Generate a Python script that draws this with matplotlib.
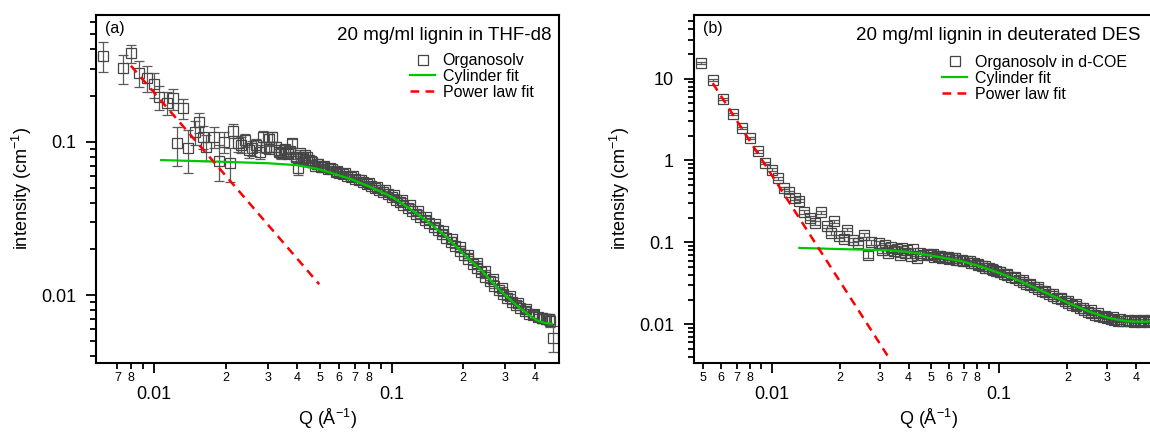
import numpy as np
import matplotlib
matplotlib.use('Agg')
import matplotlib.pyplot as plt
from matplotlib.ticker import FixedLocator, FixedFormatter, NullFormatter, LogLocator

plt.rcParams['font.family'] = ['Liberation Sans', 'DejaVu Sans']
plt.rcParams['mathtext.fontset'] = 'custom'
plt.rcParams['mathtext.rm'] = 'Liberation Sans'
plt.rcParams['mathtext.it'] = 'Liberation Sans:italic'

# ---- panel (a): 20 mg/ml lignin in THF-d8 ----
q_a = [0.00609, 0.00736, 0.00798, 0.00865, 0.00937, 0.0100, 0.0105, 0.0113, 0.0120, 0.0125,
       0.0132, 0.0139, 0.0149, 0.0154, 0.0161, 0.0166, 0.0179, 0.0188, 0.0196, 0.0209,
       0.0215, 0.0226, 0.0231, 0.0240, 0.0250, 0.0258, 0.0268, 0.0278, 0.0287, 0.0296,
       0.0305, 0.0314, 0.0326, 0.0335, 0.0343, 0.0355, 0.0365, 0.0374, 0.0382, 0.0396,
       0.0403, 0.0412, 0.0422, 0.0433, 0.0441, 0.0450,
       0.0460, 0.0475, 0.0490, 0.0505, 0.0520, 0.0540, 0.0560, 0.0580, 0.0600, 0.0625,
       0.0650, 0.0675, 0.0700, 0.0730, 0.0760, 0.0790, 0.0820, 0.0850, 0.0885, 0.0920,
       0.0960, 0.1000, 0.1040, 0.1080, 0.1120, 0.1170, 0.1220, 0.1270, 0.1320, 0.1380,
       0.1440, 0.1500, 0.1560, 0.1630, 0.1700, 0.1770, 0.1850, 0.1930, 0.2010, 0.2100,
       0.2190, 0.2280, 0.2380, 0.2480, 0.2590, 0.2700, 0.2820, 0.2940, 0.3070, 0.3200,
       0.3340, 0.3480, 0.3630, 0.3790, 0.3950, 0.4120, 0.4300, 0.4480, 0.4650, 0.4780]
i_a = [0.364, 0.304, 0.377, 0.282, 0.262, 0.237, 0.197, 0.180, 0.192, 0.0976,
       0.165, 0.0906, 0.116, 0.134, 0.108, 0.0928, 0.108, 0.0752, 0.100, 0.0730,
       0.118, 0.0976, 0.0960, 0.102, 0.0880, 0.0906, 0.0950, 0.0860, 0.108, 0.0920,
       0.104, 0.108, 0.0928, 0.0880, 0.0840, 0.0900, 0.0850, 0.0870, 0.0976, 0.0798,
       0.0671, 0.0850, 0.0800, 0.0820, 0.0790, 0.0760,
       0.0735, 0.0700, 0.0720, 0.0690, 0.0700, 0.0665, 0.0660, 0.0640, 0.0630, 0.0615,
       0.0600, 0.0590, 0.0575, 0.0560, 0.0545, 0.0530, 0.0515, 0.0500, 0.0485, 0.0470,
       0.0455, 0.0440, 0.0420, 0.0405, 0.0390, 0.0372, 0.0355, 0.0340, 0.0325, 0.0310,
       0.0295, 0.0280, 0.0265, 0.0250, 0.0236, 0.0222, 0.0208, 0.0195, 0.0184, 0.0172,
       0.0161, 0.0151, 0.0141, 0.0132, 0.0123, 0.0115, 0.0108, 0.0102, 0.0096, 0.0091,
       0.0087, 0.0083, 0.0079, 0.0076, 0.0074, 0.0072, 0.0071, 0.0070, 0.0068, 0.0053]
e_a = [0.080, 0.065, 0.050, 0.055, 0.050, 0.045, 0.035, 0.030, 0.030, 0.028,
       0.025, 0.028, 0.020, 0.020, 0.018, 0.018, 0.017, 0.020, 0.015, 0.018,
       0.012, 0.012, 0.012, 0.010, 0.010, 0.010, 0.009, 0.009, 0.009, 0.008,
       0.008, 0.008, 0.007, 0.007, 0.007, 0.006, 0.006, 0.006, 0.006, 0.005,
       0.006, 0.004, 0.004, 0.004, 0.003, 0.003,
       0.003, 0.003, 0.002, 0.002, 0.002, 0.002, 0.002, 0.002, 0.0015, 0.0015,
       0.0015, 0.0015, 0.0012, 0.0012, 0.0012, 0.0012, 0.001, 0.001, 0.001, 0.001,
       0.0009, 0.0009, 0.0008, 0.0008, 0.0008, 0.0007, 0.0007, 0.0006, 0.0006, 0.0006,
       0.0005, 0.0005, 0.0005, 0.0005, 0.0004, 0.0004, 0.0004, 0.0004, 0.0004, 0.0003,
       0.0003, 0.0003, 0.0003, 0.0003, 0.0003, 0.0003, 0.0003, 0.0003, 0.0003, 0.0003,
       0.0003, 0.0003, 0.0003, 0.0003, 0.0004, 0.0004, 0.0004, 0.0005, 0.0006, 0.0010]
# overlapping second detector set, panel (a)
q_a2 = [0.0305, 0.0335, 0.0365, 0.0395, 0.0425, 0.0455, 0.0485, 0.0515, 0.0550, 0.0590,
        0.0635, 0.0685, 0.0740, 0.0800, 0.0865, 0.0940, 0.1020, 0.1100, 0.1190, 0.1290,
        0.1400, 0.1520, 0.1650, 0.1790, 0.1940, 0.2100, 0.2280, 0.2470, 0.2680, 0.2900,
        0.3140, 0.3400, 0.3680, 0.3980, 0.4300, 0.4600]
i_a2 = [0.0900, 0.0860, 0.0830, 0.0800, 0.0770, 0.0745, 0.0715, 0.0690, 0.0672, 0.0648,
        0.0622, 0.0595, 0.0565, 0.0540, 0.0510, 0.0483, 0.0452, 0.0420, 0.0386, 0.0354,
        0.0322, 0.0292, 0.0263, 0.0234, 0.0206, 0.0184, 0.0163, 0.0144, 0.0128, 0.0111,
        0.0099, 0.0089, 0.0081, 0.0075, 0.0071, 0.0070]
e_a2 = [0.004, 0.004, 0.003, 0.003, 0.003, 0.002, 0.002, 0.002, 0.002, 0.0015,
        0.0015, 0.0012, 0.0012, 0.001, 0.001, 0.0009, 0.0008, 0.0008, 0.0007, 0.0006,
        0.0006, 0.0005, 0.0005, 0.0004, 0.0004, 0.0004, 0.0003, 0.0003, 0.0003, 0.0003,
        0.0003, 0.0003, 0.0003, 0.0004, 0.0005, 0.0006]
cyl_q_a = [0.0107, 0.0193, 0.0300, 0.0395, 0.0480, 0.0566, 0.0680, 0.0811, 0.1000, 0.1180,
           0.1394, 0.1700, 0.1995, 0.2380, 0.2850, 0.3410, 0.3800, 0.4080, 0.4400, 0.4710]
cyl_i_a = [0.0760, 0.0741, 0.0725, 0.0705, 0.0670, 0.0622, 0.0568, 0.0508, 0.0438, 0.0370,
           0.0308, 0.0240, 0.0187, 0.01456, 0.0108, 0.0084, 0.0074, 0.00687, 0.0066, 0.00653]
pow_q_a = [0.00798, 0.0495]
pow_i_a = [0.313, 0.0118]

# ---- panel (b): 20 mg/ml lignin in deuterated DES ----
q_b = [0.00489, 0.0055, 0.0061, 0.00676, 0.00738, 0.0080, 0.00866, 0.00931, 0.0100, 0.01068,
       0.01137, 0.01193, 0.0126, 0.01323, 0.01393, 0.0147, 0.01544, 0.0165, 0.01743, 0.0182,
       0.01873, 0.0198, 0.0207, 0.02153, 0.0227, 0.0240, 0.0254, 0.0264, 0.0273, 0.0295,
       0.0305, 0.0315, 0.0325, 0.0335, 0.0345, 0.0355, 0.0365, 0.0375, 0.0385, 0.0395,
       0.0410, 0.0420, 0.0435, 0.0450, 0.0465, 0.0480,
       0.0500, 0.0520, 0.0540, 0.0560, 0.0580, 0.0600, 0.0620, 0.0645, 0.0670, 0.0695,
       0.0720, 0.0750, 0.0780, 0.0810, 0.0840, 0.0870, 0.0905, 0.0940, 0.0975, 0.1010,
       0.1050, 0.1090, 0.1130, 0.1175, 0.1220, 0.1270, 0.1320, 0.1370, 0.1425, 0.1480,
       0.1540, 0.1600, 0.1665, 0.1730, 0.1800, 0.1870, 0.1945, 0.2020, 0.2100, 0.2185,
       0.2270, 0.2360, 0.2455, 0.2550, 0.2650, 0.2760, 0.2870, 0.2980, 0.3100, 0.3220,
       0.3350, 0.3480, 0.3620, 0.3760, 0.3910, 0.4070, 0.4230, 0.4400, 0.4570, 0.4750, 0.4940]
i_b = [15.4, 9.64, 5.61, 3.68, 2.48, 1.88, 1.29, 0.929, 0.771, 0.609,
       0.461, 0.407, 0.347, 0.323, 0.235, 0.199, 0.172, 0.232, 0.157, 0.130,
       0.180, 0.118, 0.110, 0.143, 0.108, 0.0983, 0.124, 0.0708, 0.100, 0.0983,
       0.080, 0.092, 0.075, 0.088, 0.078, 0.083, 0.070, 0.085, 0.074, 0.080,
       0.068, 0.082, 0.065, 0.075, 0.071, 0.073,
       0.0700, 0.0670, 0.0685, 0.0650, 0.0660, 0.0630, 0.0640, 0.0610, 0.0615, 0.0585,
       0.0590, 0.0560, 0.0555, 0.0525, 0.0520, 0.0490, 0.0485, 0.0460, 0.0450, 0.0430,
       0.0415, 0.0395, 0.0380, 0.0362, 0.0345, 0.0330, 0.0312, 0.0298, 0.0282, 0.0270,
       0.0255, 0.0245, 0.0232, 0.0222, 0.0210, 0.0202, 0.0190, 0.0183, 0.0173, 0.0166,
       0.0157, 0.0151, 0.0143, 0.0138, 0.0131, 0.0127, 0.0122, 0.0119, 0.0115, 0.0113,
       0.0111, 0.0110, 0.0108, 0.0109, 0.0107, 0.0108, 0.0106, 0.0108, 0.0107, 0.0108, 0.0107]
e_b = [0.5, 0.35, 0.2, 0.13, 0.09, 0.07, 0.05, 0.035, 0.03, 0.024,
       0.018, 0.016, 0.014, 0.013, 0.01, 0.009, 0.008, 0.01, 0.008, 0.007,
       0.009, 0.006, 0.006, 0.007, 0.006, 0.006, 0.007, 0.007, 0.006, 0.005,
       0.005, 0.005, 0.005, 0.005, 0.004, 0.004, 0.004, 0.004, 0.004, 0.004,
       0.004, 0.004, 0.004, 0.003, 0.003, 0.003,
       0.002, 0.002, 0.002, 0.002, 0.002, 0.002, 0.002, 0.0015, 0.0015, 0.0015,
       0.0015, 0.0015, 0.0012, 0.0012, 0.0012, 0.0012, 0.001, 0.001, 0.001, 0.001,
       0.0009, 0.0009, 0.0008, 0.0008, 0.0008, 0.0007, 0.0007, 0.0006, 0.0006, 0.0006,
       0.0005, 0.0005, 0.0005, 0.0005, 0.0004, 0.0004, 0.0004, 0.0004, 0.0004, 0.0003,
       0.0003, 0.0003, 0.0003, 0.0003, 0.0003, 0.0003, 0.0003, 0.0003, 0.0003, 0.0003,
       0.0003, 0.0003, 0.0003, 0.0003, 0.0003, 0.0003, 0.0003, 0.0003, 0.0003, 0.0003, 0.0003]
# overlapping second detector set, panel (b)
q_b2 = [0.0510, 0.0550, 0.0595, 0.0640, 0.0690, 0.0745, 0.0805, 0.0865, 0.0935, 0.1010,
        0.1090, 0.1175, 0.1270, 0.1370, 0.1480, 0.1600, 0.1730, 0.1870, 0.2020, 0.2180,
        0.2350, 0.2530, 0.2730, 0.2940, 0.3170, 0.3420, 0.3690, 0.3980, 0.4290, 0.4620, 0.4980]
i_b2 = [0.0715, 0.0690, 0.0665, 0.0640, 0.0612, 0.0585, 0.0545, 0.0510, 0.0478, 0.0440,
        0.0408, 0.0376, 0.0345, 0.0313, 0.0285, 0.0258, 0.0232, 0.0210, 0.0192, 0.0175,
        0.0160, 0.0148, 0.0136, 0.0127, 0.0121, 0.0117, 0.0114, 0.0113, 0.0112, 0.0112, 0.0112]
e_b2 = [0.002, 0.002, 0.002, 0.0015, 0.0015, 0.0015, 0.0012, 0.0012, 0.001, 0.001,
        0.0009, 0.0008, 0.0008, 0.0007, 0.0006, 0.0006, 0.0005, 0.0005, 0.0004, 0.0004,
        0.0003, 0.0003, 0.0003, 0.0003, 0.0003, 0.0003, 0.0003, 0.0003, 0.0003, 0.0003, 0.0003]
cyl_q_b = [0.01323, 0.0189, 0.0250, 0.0329, 0.0400, 0.0476, 0.0571, 0.0688, 0.0827, 0.1000,
           0.1193, 0.1440, 0.1730, 0.2010, 0.2506, 0.3010, 0.3620, 0.4200, 0.4650, 0.5200]
cyl_i_b = [0.0855, 0.0831, 0.0815, 0.0799, 0.0760, 0.0708, 0.0646, 0.0586, 0.0509, 0.0423,
           0.0351, 0.0278, 0.0220, 0.0182, 0.0142, 0.0120, 0.0109, 0.0107, 0.0108, 0.0109]
pow_q_b = [0.0055, 0.0323]
pow_i_b = [8.79, 0.00415]

# tick labels
minor_a = [0.007, 0.008, 0.009, 0.02, 0.03, 0.04, 0.05, 0.06, 0.07, 0.08, 0.09, 0.2, 0.3, 0.4]
lab_a = ['7', '8', '', '2', '3', '4', '5', '6', '7', '8', '', '2', '3', '4']
minor_b = [0.005, 0.006, 0.007, 0.008, 0.009, 0.02, 0.03, 0.04, 0.05, 0.06, 0.07, 0.08, 0.09,
           0.2, 0.3, 0.4]
lab_b = ['5', '6', '7', '8', '', '2', '3', '4', '5', '6', '7', '8', '', '2', '3', '4']
yticks_a = [0.01, 0.1]
ylab_a = ['0.01', '0.1']
yticks_b = [0.01, 0.1, 1, 10]
ylab_b = ['0.01', '0.1', '1', '10']

data_color = '#454545'
green = '#00c800'
red = '#ff0000'


def draw_panel(ax, sets, cq, ci, pq, pi, xlim, ylim, minor_x, minor_lab, yt, ytl,
               tag, title, title_x, name, leg_anchor):
    for q, i, e in sets:
        ax.errorbar(q, i, yerr=e, fmt='s', mfc='none', mec=data_color, ms=6.5, mew=0.9,
                    ecolor='#5a5a5a', elinewidth=0.9, capsize=3.5, capthick=0.9, zorder=2)
    ax.plot(cq, ci, color=green, lw=1.6, zorder=3)
    ax.plot(pq, pi, color=red, lw=1.8, ls=(0, (3.5, 2.5)), zorder=3)
    ax.set_xscale('log')
    ax.set_yscale('log')
    ax.set_xlim(*xlim)
    ax.set_ylim(*ylim)

    ax.xaxis.set_minor_locator(FixedLocator(minor_x))
    ax.xaxis.set_minor_formatter(FixedFormatter(minor_lab))
    ax.xaxis.set_major_locator(FixedLocator([0.01, 0.1]))
    ax.xaxis.set_major_formatter(FixedFormatter(['0.01', '0.1']))
    ax.yaxis.set_major_locator(FixedLocator(yt))
    ax.yaxis.set_major_formatter(FixedFormatter(ytl))
    ax.yaxis.set_minor_locator(LogLocator(base=10, subs=(2, 3, 4, 5, 6, 7, 8, 9)))
    ax.yaxis.set_minor_formatter(NullFormatter())

    ax.tick_params(which='both', direction='out', top=False, right=False, width=1.3)
    ax.tick_params(which='major', length=7.5, labelsize=13)
    ax.tick_params(which='minor', length=4.5)
    ax.tick_params(axis='x', which='major', pad=9)
    ax.tick_params(axis='x', which='minor', labelsize=9, pad=2)
    ax.tick_params(axis='y', which='major', pad=7)
    for s in ax.spines.values():
        s.set_linewidth(1.5)

    ax.set_xlabel('Q (Å$^{-1}$)', fontsize=13, labelpad=3)
    ax.set_ylabel('intensity (cm$^{-1}$)', fontsize=13, labelpad=5)

    ax.text(0.02, 0.96, tag, transform=ax.transAxes, fontsize=11.5, va='center', ha='left')
    ax.text(title_x, 0.94, title, transform=ax.transAxes, fontsize=13.5, va='center', ha='right')

    h1, = ax.plot([], [], 's', mfc='none', mec=data_color, ms=6.5, mew=0.9)
    h2, = ax.plot([], [], color=green, lw=1.6)
    h3, = ax.plot([], [], color=red, lw=1.8, ls=(0, (3.5, 2.5)))
    ax.legend([h1, h2, h3], [name, 'Cylinder fit', 'Power law fit'], loc='upper left',
              bbox_to_anchor=leg_anchor, frameon=False, fontsize=11.5, borderpad=0,
              borderaxespad=0, handlelength=1.6, handletextpad=0.45, labelspacing=0.05)


fig = plt.figure(figsize=(11.5, 4.32), dpi=100)
ax1 = fig.add_axes([0.0835, 0.1597, 0.4026, 0.8056])
ax2 = fig.add_axes([0.6035, 0.1597, 0.4070, 0.8056])

draw_panel(ax1, [(q_a, i_a, e_a), (q_a2, i_a2, e_a2)], cyl_q_a, cyl_i_a, pow_q_a, pow_i_a,
           (0.00569, 0.506), (0.00362, 0.67), minor_a, lab_a, yticks_a, ylab_a,
           '(a)', '20 mg/ml lignin in THF-d8', 0.983, 'Organosolv', (0.678, 0.89))
draw_panel(ax2, [(q_b, i_b, e_b), (q_b2, i_b2, e_b2)], cyl_q_b, cyl_i_b, pow_q_b, pow_i_b,
           (0.00455, 0.522), (0.00336, 59.8), minor_b, lab_b, yticks_b, ylab_b,
           '(b)', '20 mg/ml lignin in deuterated DES', 0.953, 'Organosolv in d-COE',
           (0.5295, 0.885))

fig.savefig('out.png', dpi=100)
